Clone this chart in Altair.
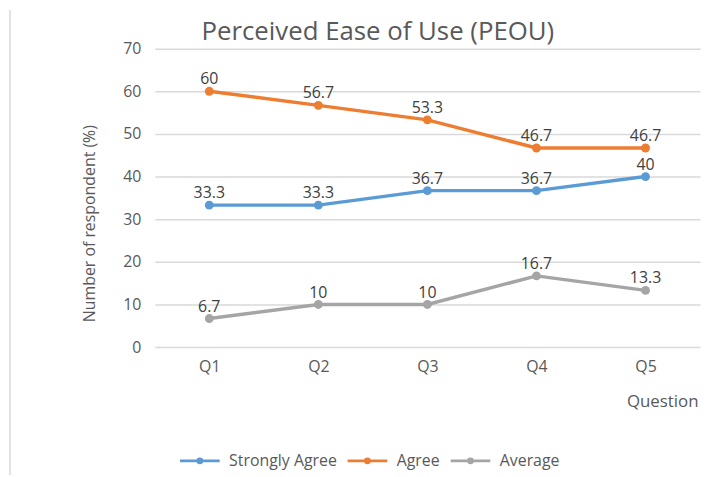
import altair as alt
import pandas as pd

questions = ["Q1", "Q2", "Q3", "Q4", "Q5"]
series_names = ["Strongly Agree", "Agree", "Average"]
strongly_agree = [33.3, 33.3, 36.7, 36.7, 40]
agree = [60, 56.7, 53.3, 46.7, 46.7]
average = [6.7, 10, 10, 16.7, 13.3]
colors = ["#5B9BD5", "#ED7D31", "#A5A5A5"]

rows = []
for name, vals in zip(series_names, [strongly_agree, agree, average]):
    for q, v in zip(questions, vals):
        rows.append({"Question": q, "Series": name, "Value": v, "Label": f"{v:g}"})
df = pd.DataFrame(rows)

FONT = "Open Sans"

color_enc = alt.Color(
    "Series:N",
    scale=alt.Scale(domain=series_names, range=colors),
    legend=alt.Legend(
        title=None,
        orient="none",
        direction="horizontal",
        legendX=24,
        legendY=394,
        symbolType="M-1,0H1M0.1,0A0.1,0.1,0,1,1,-0.1,0A0.1,0.1,0,1,1,0.1,0",
        symbolSize=1600,
        symbolStrokeWidth=3,
        labelFont=FONT,
        labelFontSize=16,
        labelColor="#595959",
        labelOffset=8,
        columnPadding=4,
    ),
)

x_enc = alt.X(
    "Question:N",
    sort=questions,
    scale=alt.Scale(paddingInner=0, paddingOuter=0.5),
    axis=alt.Axis(
        title="Question",
        titleX=548,
        titleY=55,
        titleAlign="right",
        titleBaseline="middle",
        titleFont=FONT,
        titleFontSize=17,
        titleFontWeight="normal",
        titleColor="#595959",
        labelFont=FONT,
        labelFontSize=16,
        labelColor="#595959",
        labelAngle=0,
        labelPadding=12,
        ticks=False,
        domain=False,
        grid=False,
    ),
)

y_enc = alt.Y(
    "Value:Q",
    scale=alt.Scale(domain=[0, 70]),
    axis=alt.Axis(
        title="Number of respondent (%)",
        titleX=-66,
        titleY=176,
        titleAlign="center",
        titleBaseline="middle",
        titleAngle=270,
        titleFont=FONT,
        titleFontSize=16,
        titleFontWeight="normal",
        titleColor="#595959",
        values=[0, 10, 20, 30, 40, 50, 60, 70],
        labelFont=FONT,
        labelFontSize=16,
        labelColor="#595959",
        labelPadding=14,
        ticks=False,
        domain=False,
        grid=True,
        gridColor="#D9D9D9",
        gridWidth=1.5,
    ),
)

base = alt.Chart(df)

lines = base.mark_line(strokeWidth=3.5).encode(x=x_enc, y=y_enc, color=color_enc)
points = base.mark_circle(size=80, opacity=1).encode(
    x=alt.X("Question:N", sort=questions),
    y="Value:Q",
    color=alt.Color("Series:N", legend=None),
)
labels = base.mark_text(dy=-12, font=FONT, fontSize=16, color="#404040", baseline="middle").encode(
    x=alt.X("Question:N", sort=questions),
    y="Value:Q",
    text="Label:N",
)
border = alt.Chart(pd.DataFrame({"a": [0]})).mark_rule(color="#D9D9D9", strokeWidth=1.5).encode(
    x=alt.value(-146), y=alt.value(-39), y2=alt.value(430)
)

chart = alt.layer(border, lines, points, labels).properties(
    width=550,
    height=301,
    autosize="none",
    padding={"left": 148, "top": 39, "right": 6, "bottom": 128},
    title=alt.TitleParams(
        "Perceived Ease of Use (PEOU)",
        font=FONT,
        fontSize=26,
        fontWeight="normal",
        color="#595959",
        anchor="middle",
        baseline="alphabetic",
        dx=-50,
        dy=57,
        offset=0,
    ),
).configure_view(stroke=None)

chart.save("out.html", embed_options={"renderer": "svg", "actions": False})
